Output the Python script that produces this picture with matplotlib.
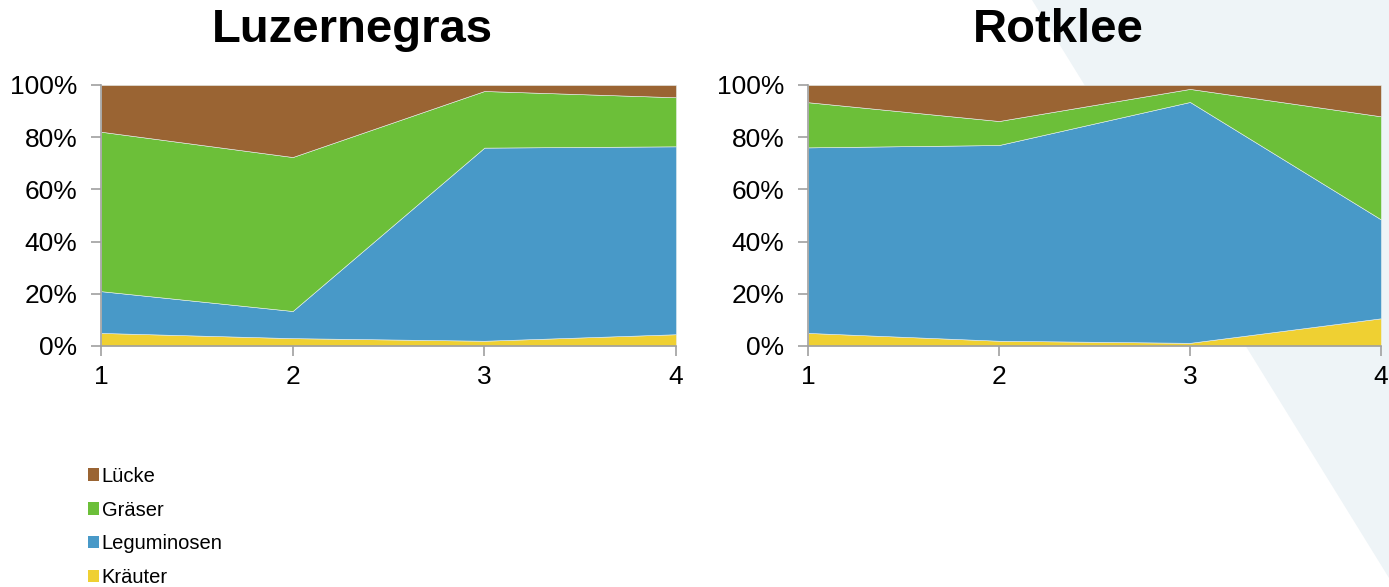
import matplotlib
matplotlib.use("Agg")
import matplotlib.pyplot as plt
from matplotlib.patches import Patch, Polygon
from matplotlib.ticker import PercentFormatter

plt.rcParams["font.family"] = ["Liberation Sans", "DejaVu Sans"]

# shares per plot (%), stacked bottom to top
cuts = [1, 2, 3, 4]
layers = ["Kräuter", "Leguminosen", "Gräser", "Lücke"]
colors = ["#efd032", "#4899c8", "#6cbf39", "#9a6433"]

luzernegras_kraeuter = [5.0, 3.0, 2.0, 4.5]
luzernegras_legum = [16.0, 10.4, 74.0, 72.0]
luzernegras_graeser = [61.1, 59.0, 21.7, 18.8]
luzernegras_luecke = [17.9, 27.6, 2.3, 4.7]

rotklee_kraeuter = [5.0, 2.0, 1.2, 10.6]
rotklee_legum = [71.1, 75.0, 92.3, 37.9]
rotklee_graeser = [17.3, 9.2, 5.0, 39.5]
rotklee_luecke = [6.6, 13.8, 1.5, 12.0]

panels = [
    ("Luzernegras", [luzernegras_kraeuter, luzernegras_legum,
                     luzernegras_graeser, luzernegras_luecke]),
    ("Rotklee", [rotklee_kraeuter, rotklee_legum,
                 rotklee_graeser, rotklee_luecke]),
]

fig = plt.figure(figsize=(13.89, 5.87), dpi=100)

# pale diagonal backdrop on the right, behind everything
fig.patches.append(Polygon([[1032 / 1389, 1.0], [1.0, 1.0], [1.0, 1 - 578 / 587]],
                           closed=True, transform=fig.transFigure,
                           facecolor="#eef4f7", edgecolor="none", zorder=-5))

boxes = [[0.0727, 0.4106, 0.4140, 0.4446], [0.5817, 0.4106, 0.4125, 0.4446]]
grey = "#a0a0a0"

for (title, series), box in zip(panels, boxes):
    ax = fig.add_axes(box, zorder=1)
    ax.set_facecolor("none")
    ax.stackplot(cuts, *series, colors=colors, linewidth=0.4,
                 edgecolor="#e8f0f0", labels=layers)
    ax.set_xlim(1, 4)
    ax.set_ylim(0, 100)
    ax.set_xticks(cuts)
    ax.set_yticks([0, 20, 40, 60, 80, 100])
    ax.yaxis.set_major_formatter(PercentFormatter(decimals=0))
    for s in ["top", "right"]:
        ax.spines[s].set_visible(False)
    for s in ["left", "bottom"]:
        ax.spines[s].set_color(grey)
        ax.spines[s].set_linewidth(1.2)
    ax.tick_params(axis="both", length=7, width=1.2, color=grey, labelsize=19)
    ax.tick_params(axis="y", pad=10)
    ax.tick_params(axis="x", pad=7)
    # titles sit a little left of the plot centre
    ax.text(0.5 - 36 / 575, 1.0 + 43 / 261, title, transform=ax.transAxes,
            ha="center", va="baseline", fontsize=34, fontweight="bold")

handles = [Patch(facecolor=c, edgecolor="none", label=l)
           for l, c in zip(layers, colors)][::-1]
fig.legend(handles=handles, loc="upper left", bbox_to_anchor=(0.063, 0.205),
           frameon=False, fontsize=14.5, handlelength=0.55, handleheight=0.55,
           handletextpad=0.15, labelspacing=0.74, borderpad=0, borderaxespad=0)

fig.savefig("out.png", dpi=100)
